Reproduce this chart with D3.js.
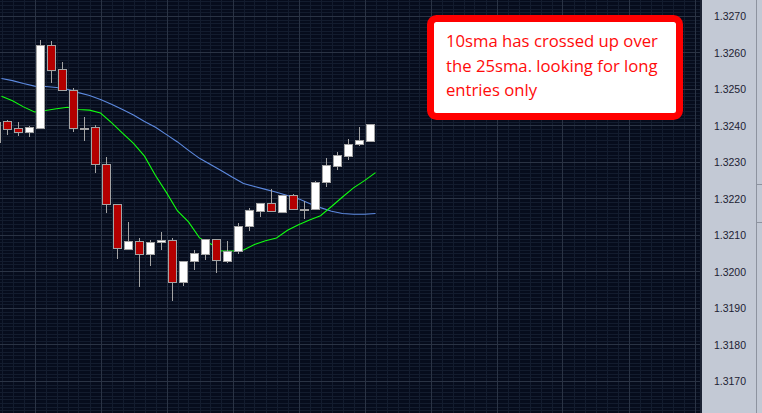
<!DOCTYPE html>
<html>
<head>
<meta charset="utf-8">
<script src="https://cdn.jsdelivr.net/npm/d3@7"></script>
<style>
  html, body { margin: 0; padding: 0; background: #060c1c; overflow: hidden; }
</style>
</head>
<body>
<svg id="chart" width="762" height="413"></svg>
<script>
// candle data, index -1 .. 33
const opens  = [1.32356, 1.32412, 1.32392, 1.32383, 1.32393, 1.32620, 1.32554, 1.32497, 1.32394, 1.32395,
                1.32294, 1.32184, 1.32062, 1.32084, 1.32049, 1.32080, 1.32086, 1.31972, 1.32028, 1.32049,
                1.32088, 1.32030, 1.32056, 1.32124, 1.32167, 1.32187, 1.32164, 1.32209, 1.32170, 1.32170,
                1.32244, 1.32290, 1.32317, 1.32348, 1.32358];
const highs  = [1.32410, 1.32414, 1.32409, 1.32399, 1.32634, 1.32632, 1.32573, 1.32504, 1.32424, 1.32401,
                1.32315, 1.32184, 1.32136, 1.32091, 1.32086, 1.32108, 1.32091, 1.32028, 1.32059, 1.32088,
                1.32089, 1.32084, 1.32132, 1.32175, 1.32187, 1.32226, 1.32209, 1.32212, 1.32194, 1.32248,
                1.32310, 1.32327, 1.32363, 1.32397, 1.32404];
const lows   = [1.32356, 1.32374, 1.32370, 1.32368, 1.32390, 1.32517, 1.32497, 1.32381, 1.32358, 1.32269,
                1.32161, 1.32033, 1.32062, 1.31958, 1.32015, 1.32059, 1.31919, 1.31961, 1.32004, 1.32032,
                1.31997, 1.32024, 1.32049, 1.32111, 1.32150, 1.32165, 1.32159, 1.32170, 1.32144, 1.32170,
                1.32232, 1.32278, 1.32305, 1.32345, 1.32358];
const closes = [1.32410, 1.32390, 1.32383, 1.32395, 1.32620, 1.32553, 1.32497, 1.32392, 1.32394, 1.32294,
                1.32184, 1.32064, 1.32084, 1.32049, 1.32080, 1.32087, 1.31972, 1.32028, 1.32050, 1.32088,
                1.32031, 1.32056, 1.32124, 1.32168, 1.32187, 1.32165, 1.32209, 1.32170, 1.32170, 1.32244,
                1.32292, 1.32318, 1.32349, 1.32359, 1.32404];

// moving averages, one value per candle
const sma10 = [1.32480, 1.32468, 1.32451, 1.32437, 1.32441, 1.32446, 1.32450, 1.32444, 1.32442, 1.32434,
               1.32408, 1.32379, 1.32351, 1.32316, 1.32263, 1.32216, 1.32166, 1.32136, 1.32092, 1.32076,
               1.32056, 1.32056, 1.32059, 1.32074, 1.32084, 1.32092, 1.32113, 1.32128, 1.32141, 1.32153,
               1.32178, 1.32204, 1.32229, 1.32249, 1.32271];
const sma25 = [1.32529, 1.32523, 1.32515, 1.32508, 1.32507, 1.32504, 1.32499, 1.32490, 1.32482, 1.32471,
               1.32458, 1.32444, 1.32429, 1.32411, 1.32395, 1.32375, 1.32355, 1.32332, 1.32310, 1.32293,
               1.32276, 1.32258, 1.32241, 1.32233, 1.32225, 1.32217, 1.32208, 1.32199, 1.32186, 1.32175,
               1.32165, 1.32159, 1.32157, 1.32157, 1.32159];

const priceTicks = [1.3170, 1.3180, 1.3190, 1.3200, 1.3210, 1.3220, 1.3230, 1.3240, 1.3250, 1.3260, 1.3270];
const noteLines = ["10sma has crossed up over", "the 25sma. looking for long", "entries only"];

const firstIndex = -1;
const candles = opens.map((o, i) => ({
  i: i + firstIndex, o, h: highs[i], l: lows[i], c: closes[i]
}));

const svg = d3.select("#chart");
const width = 762, height = 413;
const plotRight = 702;

const x = d3.scaleLinear().domain([-1, 33]).range([-4, 370]);
const y = d3.scaleLinear().domain([1.3170, 1.3270]).range([381, 16]);

svg.append("rect").attr("width", width).attr("height", height).attr("fill", "#060c1c");

svg.append("clipPath").attr("id", "plot")
  .append("rect").attr("width", plotRight).attr("height", height);

const plot = svg.append("g").attr("clip-path", "url(#plot)");

// grid - minor lines every 0.0001 / every bar, major every label / 6 bars
const hLines = d3.range(13160, 13276).map(n => n / 10000);
plot.append("g").selectAll("line")
  .data(hLines.filter(p => Math.round(p * 10000) % 10 !== 0))
  .join("line")
  .attr("x1", 0).attr("x2", plotRight)
  .attr("y1", d => Math.round(y(d)) + 0.5).attr("y2", d => Math.round(y(d)) + 0.5)
  .attr("stroke", "#131c2e");

const vLines = d3.range(-2, 64);
plot.append("g").selectAll("line")
  .data(vLines.filter(i => (i - 2) % 6 !== 0))
  .join("line")
  .attr("x1", d => Math.round(x(d + 0.5)) + 0.5).attr("x2", d => Math.round(x(d + 0.5)) + 0.5)
  .attr("y1", 0).attr("y2", height)
  .attr("stroke", "#131c2e");

plot.append("g").selectAll("line")
  .data(hLines.filter(p => Math.round(p * 10000) % 10 === 0))
  .join("line")
  .attr("x1", 0).attr("x2", plotRight)
  .attr("y1", d => Math.round(y(d)) + 0.5).attr("y2", d => Math.round(y(d)) + 0.5)
  .attr("stroke", "#2a3344");

plot.append("g").selectAll("line")
  .data(vLines.filter(i => (i - 2) % 6 === 0))
  .join("line")
  .attr("x1", d => Math.round(x(d + 0.5)) + 0.5).attr("x2", d => Math.round(x(d + 0.5)) + 0.5)
  .attr("y1", 0).attr("y2", height)
  .attr("stroke", "#2a3344");

// moving averages (plotted at the right edge of each bar)
const maLine = d3.line()
  .x((d, i) => x(i + firstIndex + 0.5))
  .y(d => y(d));

plot.append("path").datum(sma25)
  .attr("d", maLine).attr("fill", "none")
  .attr("stroke", "#5d8ae0").attr("stroke-width", 1.1);

plot.append("path").datum(sma10)
  .attr("d", maLine).attr("fill", "none")
  .attr("stroke", "#10ff10").attr("stroke-width", 1.1);

// candles
const cg = plot.append("g").selectAll("g").data(candles).join("g");

cg.append("line")
  .attr("x1", d => Math.round(x(d.i)) + 0.5).attr("x2", d => Math.round(x(d.i)) + 0.5)
  .attr("y1", d => Math.round(y(d.h))).attr("y2", d => Math.round(y(d.l)))
  .attr("stroke", "#a4a4a4");

cg.append("rect")
  .attr("x", d => Math.round(x(d.i)) - 3.5)
  .attr("width", 8)
  .attr("y", d => Math.round(y(Math.max(d.o, d.c))) + 0.5)
  .attr("height", d => Math.max(1, Math.round(y(Math.min(d.o, d.c))) - Math.round(y(Math.max(d.o, d.c)))))
  .attr("fill", d => d.c > d.o ? "#ffffff" : d.c < d.o ? "#b40000" : "#a4a4a4")
  .attr("stroke", "#a4a4a4")
  .attr("stroke-width", 1);

// price axis panel
svg.append("rect").attr("x", 700).attr("y", 0).attr("width", 2).attr("height", height).attr("fill", "#1b2233");
svg.append("rect").attr("x", plotRight).attr("y", 0).attr("width", width - plotRight).attr("height", height).attr("fill", "#c3c9d5");
svg.append("line").attr("x1", 756.5).attr("x2", 756.5).attr("y1", 0).attr("y2", height).attr("stroke", "#8d939f");
svg.append("line").attr("x1", 757).attr("x2", 762).attr("y1", 184.5).attr("y2", 184.5).attr("stroke", "#8d939f");
svg.append("line").attr("x1", 757).attr("x2", 762).attr("y1", 222.5).attr("y2", 222.5).attr("stroke", "#8d939f");

svg.append("g").selectAll("text")
  .data(priceTicks)
  .join("text")
  .attr("x", 730).attr("y", d => y(d) + 4)
  .attr("text-anchor", "middle")
  .attr("font-family", "Liberation Sans, Arial, sans-serif")
  .attr("font-size", 10.5)
  .attr("fill", "#1d1d33")
  .text(d => d.toFixed(4));

// annotation
const note = svg.append("g");
note.append("rect")
  .attr("x", 430.5).attr("y", 18.5).attr("width", 249).attr("height", 98)
  .attr("rx", 6)
  .attr("fill", "#ffffff").attr("stroke", "#ff0000").attr("stroke-width", 7);

note.selectAll("text")
  .data(noteLines)
  .join("text")
  .attr("x", 446)
  .attr("y", (d, i) => 47 + i * 24.5)
  .attr("font-family", "Open Sans, Noto Sans, sans-serif")
  .attr("font-size", 16.7)
  .attr("fill", "#ff0a0a")
  .text(d => d);
</script>
</body>
</html>
